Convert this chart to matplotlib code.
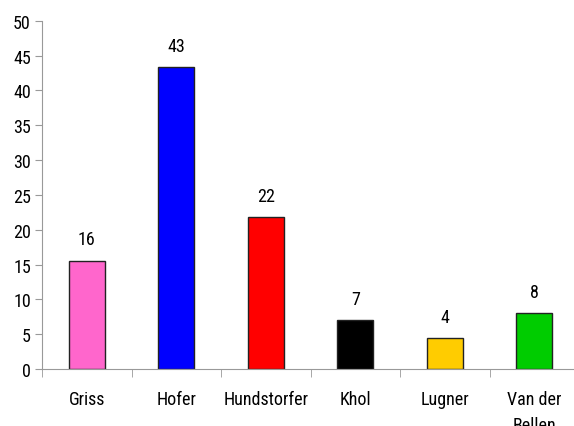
import matplotlib
matplotlib.use("Agg")
import matplotlib.pyplot as plt
import numpy as np
from matplotlib import font_manager

# -------------------------------
# Datos
# -------------------------------
candidates = ["Griss", "Hofer", "Hundstorfer", "Khol", "Lugner", "Van der\nBellen"]
shares = [15.55, 43.3, 21.8, 7.0, 4.4, 8.0]
labels = ["16", "43", "22", "7", "4", "8"]
colors = ["#ff66cc", "#0000ff", "#ff0000", "#000000", "#ffcc00", "#00cc00"]

# fuente estrecha si existe, si no Liberation Sans
names = {f.name for f in font_manager.fontManager.ttflist}
family = "Liberation Sans"
fsize = 12
for cand in ["Liberation Sans Narrow", "Roboto Condensed", "Open Sans Condensed"]:
    if cand in names:
        family = cand
        fsize = 13
        break
plt.rcParams["font.family"] = [family, "DejaVu Sans"]

fig = plt.figure(figsize=(5.74, 4.27), dpi=100)
ax = fig.add_axes([42 / 574, 57 / 427, 537 / 574, 348.3 / 427])

x = np.arange(len(candidates))
ax.bar(x, shares, width=0.4, color=colors, edgecolor="#222222", linewidth=1)

for xi, v, lab in zip(x, shares, labels):
    ax.annotate(lab, (xi, v), xytext=(0, 9), textcoords="offset points",
                ha="center", va="bottom", fontsize=fsize)

ax.set_xlim(-0.5, len(candidates) - 0.5)
ax.set_ylim(0, 50)
ax.set_yticks(range(0, 51, 5))
ax.tick_params(axis="y", labelsize=fsize, color="#999999", length=5, pad=3)

ax.set_xticks(x)
ax.set_xticklabels(candidates, fontsize=fsize, va="top", linespacing=1.6)
ax.tick_params(axis="x", length=0, pad=15)
ax.set_xticks(np.arange(-0.5, len(candidates), 1.0), minor=True)
ax.tick_params(axis="x", which="minor", length=6, color="#999999")

for side in ["top", "right"]:
    ax.spines[side].set_visible(False)
for side in ["left", "bottom"]:
    ax.spines[side].set_color("#999999")

fig.savefig("out.png", dpi=100)
